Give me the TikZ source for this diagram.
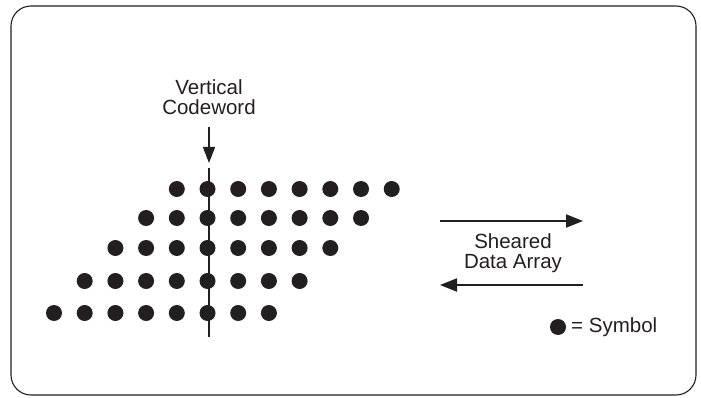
\documentclass[tikz,border=0pt]{standalone}
\usepackage{fontspec}
\setmainfont{Liberation Sans}
\usetikzlibrary{arrows.meta}
\definecolor{ink}{HTML}{231F20}
\tikzset{
  sym/.style={circle,fill=ink,draw=none,minimum size=16pt,inner sep=0pt},
  lbl/.style={text=ink,font=\fontsize{20.5}{19.5}\selectfont,align=center,inner sep=0pt},
  arr/.style={draw=ink,line width=2pt,-{Triangle[length=17pt,width=13pt]}},
  vline/.style={draw=ink,line width=1.6pt}
}
\begin{document}
\begin{tikzpicture}[x=1pt,y=-1pt]
\useasboundingbox (0,0) rectangle (701,398);
\draw[ink,line width=1.1pt,rounded corners=20pt] (11,6) rectangle (696,395);
% dots
\foreach \r/\y in {0/313,1/281,2/248,3/218,4/189}{
  \foreach \c in {0,...,7}{
    \pgfmathsetmacro\xx{54+30.7*(\c+\r)}
    \node[sym] (d\r\c) at (\xx,\y) {};
  }
}
\node[lbl] (vc) at (209,97) {Vertical\\Codeword};
\coordinate (vs) at (209,127);
\coordinate (vt) at (209,163);
\coordinate (ls) at (209,168);
\coordinate (le) at (209,337);
\draw[arr,line width=1.6pt,-{Triangle[length=16pt,width=12pt]}] (vs) -- (vt);
\draw[vline] (ls) -- (le);
% right arrows
\coordinate (a1s) at (440,221);
\coordinate (a1e) at (583,221);
\coordinate (a2s) at (583,285);
\coordinate (a2e) at (440,285);
\draw[arr] (a1s) -- (a1e);
\draw[arr] (a2s) -- (a2e);
\node[lbl] (sda) at (513,253) {Sheared\\Data Array};
% legend
\node[sym] (lg) at (558,327) {};
\node[lbl,anchor=west] (lgt) at (571,327) {= Symbol};
\end{tikzpicture}
\end{document}
